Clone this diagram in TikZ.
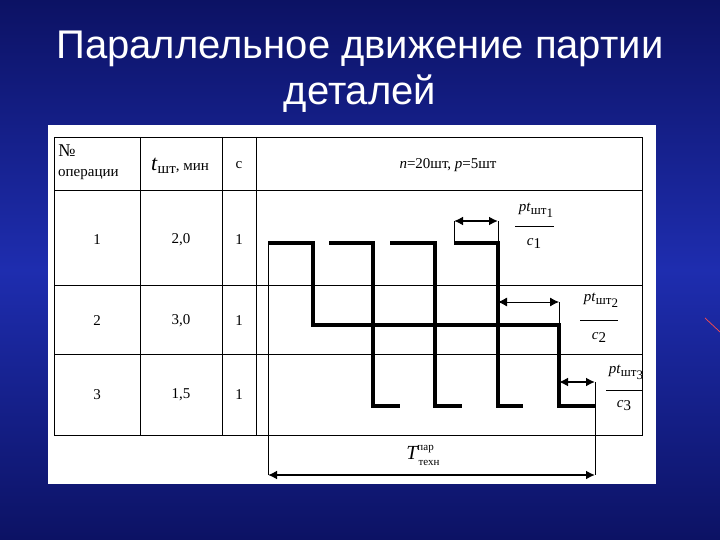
\documentclass[tikz,border=0pt]{standalone}
\usepackage{fontspec}
\setmainfont{Liberation Serif}
\newfontfamily\titlefont{Liberation Sans}
\usetikzlibrary{arrows.meta}
\definecolor{bgblue}{RGB}{30,45,175}
\definecolor{bgdark}{RGB}{12,18,100}
\tikzset{
  grid/.style={draw=black,line width=0.8pt},
  prod/.style={draw=black,line width=3.4pt},
  tick/.style={draw=black,line width=0.8pt},
  dim/.style={draw=black,line width=0.9pt,{Latex[length=9pt,width=9pt]}-{Latex[length=9pt,width=9pt]}},
  dimb/.style={draw=black,line width=2pt,{Latex[length=9pt,width=9pt]}-{Latex[length=9pt,width=9pt]}},
  cell/.style={font=\fontsize{15}{17}\selectfont,inner sep=0pt},
}
\newcommand{\ptsh}[1]{\textit{pt}\raisebox{-3pt}{\fontsize{13}{13}\selectfont шт}\raisebox{-6pt}{\fontsize{13}{13}\selectfont #1}}
\begin{document}
\begin{tikzpicture}[x=1pt,y=-1pt]
\useasboundingbox (0,0) rectangle (720,540);
\shade[top color=bgdark,bottom color=bgdark,middle color=bgblue] (0,0) rectangle (720,540);
\node[text=white,font=\titlefont\fontsize{40}{46}\selectfont,align=center] (title) at (360,72) {Параллельное движение партии\\деталей};
\draw[red!70,line width=0.7pt] (705,318) -- (720,332);
\fill[white] (48,125) rectangle (656,484);
% table grid
\draw[grid] (54,137) rectangle (642,435);
\draw[grid] (54,190) -- (642,190) (54,285) -- (642,285) (54,354) -- (642,354);
\draw[grid] (140,137) -- (140,435) (222,137) -- (222,435) (256,137) -- (256,435);
% header
\node[cell] (h1a) at (67,151) {\fontsize{18}{18}\selectfont №};
\node[cell,anchor=west] (h1b) at (58,175) {операции};
\node[cell] (h2) at (180,166) {\textit{\fontsize{22}{22}\selectfont t}\raisebox{-3pt}{шт}, мин};
\node[cell] (h3) at (239,165) {с};
\node[cell] (h4) at (448,165) {\textit{n}=20шт, \textit{p}=5шт};
\foreach \y/\a/\b/\c in {240/1/{2,0}/1, 321/2/{3,0}/1, 395/3/{1,5}/1}{
  \node[cell] at (97,\y) {\a};
  \node[cell] at (181,\y) {\b};
  \node[cell] at (239,\y) {\c};
}
% chart
\draw[prod] (268,243) -- (313,243) -- (313,325) -- (559,325) -- (559,406) -- (595,406);
\draw[prod] (329,243) -- (373,243) -- (373,406) -- (400,406);
\draw[prod] (390,243) -- (435,243) -- (435,406) -- (462,406);
\draw[prod] (454,243) -- (498,243) -- (498,406) -- (523,406);
% dims
\coordinate (a1) at (454,221); \coordinate (b1) at (498,221);
\coordinate (a2) at (498,302); \coordinate (b2) at (559,302);
\coordinate (a3) at (559,382); \coordinate (b3) at (595,382);
\coordinate (a4) at (268,475); \coordinate (b4) at (595,475);
\draw[tick] (454,243) -- (a1) (498,243) -- (b1) (559,325) -- (b2) (b3) -- (b4) (268,243) -- (a4);
\draw[dimb] (a1) -- (b1);
\draw[dim] (a2) -- (b2);
\draw[dimb] (a3) -- (b3);
\draw[dimb] (a4) -- (b4);
% fractions
\node[cell] (n1) at (536,210) {\ptsh{1}};
\draw[tick] (515,226) -- (554,226);
\node[cell] (d1) at (534,243) {\textit{c}\raisebox{-3pt}{1}};
\node[cell] (n2) at (601,300) {\ptsh{2}};
\draw[tick] (580,320) -- (618,320);
\node[cell] (d2) at (599,337) {\textit{c}\raisebox{-3pt}{2}};
\node[cell] (n3) at (626,372) {\ptsh{3}};
\draw[tick] (606,390) -- (643,390);
\node[cell] (d3) at (624,406) {\textit{c}\raisebox{-3pt}{3}};
\node[cell] (T) at (420,455) {\textit{\fontsize{20}{20}\selectfont T}\raisebox{-6pt}{\fontsize{11}{11}\selectfont техн}\hspace{-22pt}\raisebox{9pt}{\fontsize{11}{11}\selectfont пар}};
\end{tikzpicture}
\end{document}
